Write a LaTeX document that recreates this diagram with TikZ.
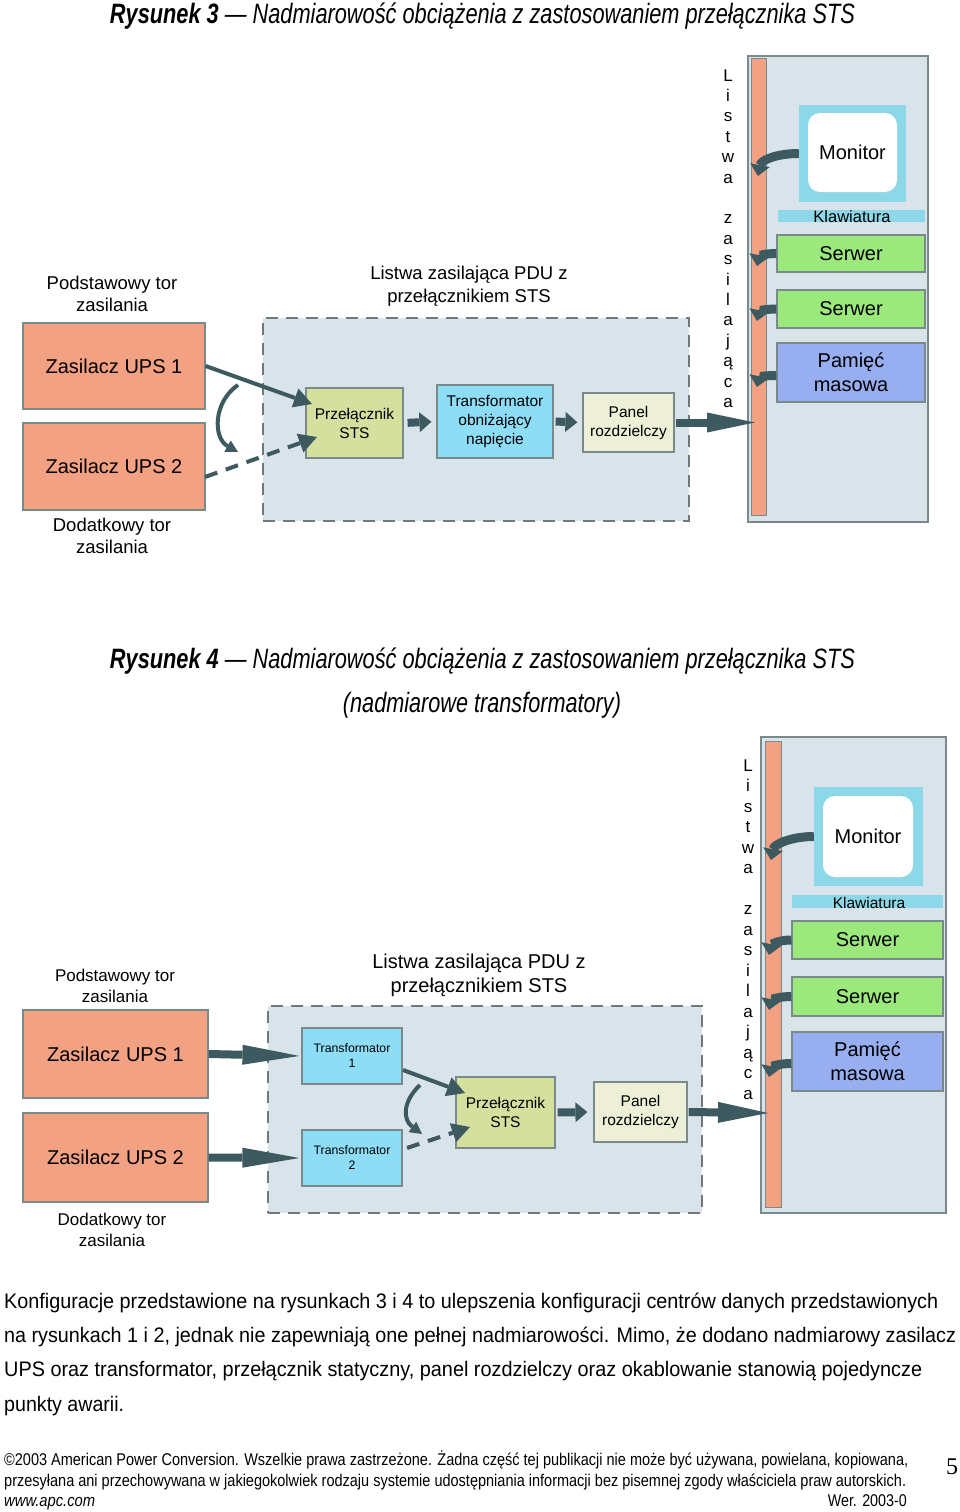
\documentclass[tikz,border=0pt]{standalone}
\usepackage{fontspec}
\usepackage{graphicx}
\setmainfont{Liberation Sans}
\newfontfamily\narrowfont[FakeStretch=0.82]{Liberation Sans}
\newfontfamily\serifnum{Liberation Serif}
\usetikzlibrary{arrows.meta}
\definecolor{salmon}{HTML}{F3A183}
\definecolor{contf}{HTML}{D9E4EA}
\definecolor{bord}{HTML}{7A8A8A}
\definecolor{dashc}{HTML}{707878}
\definecolor{arr}{HTML}{3D5A60}
\definecolor{stsf}{HTML}{D5E09F}
\definecolor{trf}{HTML}{8EDDF7}
\definecolor{panf}{HTML}{EDF0D6}
\definecolor{cyanf}{HTML}{8DD8E8}
\definecolor{srvf}{HTML}{9BE97C}
\definecolor{pamf}{HTML}{97AEF0}
\newcommand\fs[2]{\fontsize{#1}{#2}\selectfont}
\begin{document}
\begin{tikzpicture}[x=1pt,y=-1pt,
  sz/.style 2 args={minimum width=#1, minimum height=#2},
  box/.style={draw=bord, line width=1.2pt, inner sep=0pt, align=center},
  ups/.style={box, fill=salmon, font=\fs{20}{24}},
  cont/.style={draw=dashc, line width=1.5pt, dash pattern=on 12pt off 8pt, fill=contf, inner sep=0pt},
  rackbox/.style={draw=bord, line width=1.2pt, fill=contf, inner sep=0pt},
  stripbox/.style={draw=bord, line width=1pt, fill=salmon, inner sep=0pt},
  smallbox/.style={box, font=\fs{15.5}{19}},
  devbox/.style={box, font=\fs{20}{24}},
  lbl/.style={align=center, inner sep=0pt},
  blk/.style={draw=arr, line width=8pt, -{Triangle[width=20pt,length=12pt,line width=0pt]}},
  thinar/.style={draw=arr, line width=4pt, -{Triangle[width=20pt,length=18pt,line width=0pt]}},
  curvar/.style={draw=arr, line width=4pt, -{Triangle[width=13pt,length=12pt,line width=0pt]}},
  dasharr/.style={thinar, dash pattern=on 13pt off 9pt},
  fat/.style={draw=arr, line width=9pt, -{Triangle[width=20pt,length=11pt,line width=0pt]}},
]
\useasboundingbox (0,0) rectangle (960,1512);
\fill[white] (0,0) rectangle (960,1512);

% ================= Rysunek 3 =================
\node[anchor=base, inner sep=0pt] (title3) at (482.5,24) {\resizebox{745pt}{\height}{\narrowfont\itshape\fs{28}{32}\textbf{Rysunek 3} — Nadmiarowość obciążenia z zastosowaniem przełącznika STS}};

\node[lbl, font=\fs{18.5}{22}] (lblP3) at (112,294) {Podstawowy tor\\zasilania};
\node[ups, sz={182pt}{86pt}] (ups1a) at (114,366) {Zasilacz UPS 1};
\node[ups, sz={182pt}{87pt}] (ups2a) at (114,466.5) {Zasilacz UPS 2};
\node[lbl, font=\fs{18.5}{22}] (lblD3) at (112,536) {Dodatkowy tor\\zasilania};

\node[cont, sz={426pt}{203pt}] (cont3) at (476,419.5) {};
\node[lbl, font=\fs{18.5}{23}] (lblL3) at (469,286.5) {Listwa zasilająca PDU z\\przełącznikiem STS};
\node[smallbox, fill=stsf, sz={97pt}{70pt}] (sts3) at (354.5,423) {Przełącznik\\STS};
\node[smallbox, fill=trf, sz={116pt}{73pt}] (trafo3) at (495,421.5) {Transformator\\obniżający\\napięcie};
\node[smallbox, fill=panf, sz={91pt}{59pt}] (panel3) at (628.5,422.5) {Panel\\rozdzielczy};

\node[rackbox, sz={180pt}{466pt}] (rack3) at (838,289) {};
\node[stripbox, sz={15pt}{456pt}] (strip3) at (758.5,287) {};
\node[fill=cyanf, inner sep=0pt, sz={107pt}{97pt}] (mono3) at (852.5,153.5) {};
\node[fill=white, rounded corners=12pt, inner sep=0pt, sz={89pt}{79pt}, font=\fs{20}{24}] (scr3) at (852.5,152.5) {Monitor};
\node[fill=cyanf, inner sep=0pt, sz={147pt}{12pt}] (kbd3) at (851.5,216) {};
\node[lbl, font=\fs{16.5}{18}] (kbdt3) at (852,217) {Klawiatura};
\node[devbox, fill=srvf, sz={148pt}{37pt}] (srv3a) at (851,253.5) {Serwer};
\node[devbox, fill=srvf, sz={148pt}{38pt}] (srv3b) at (851,309) {Serwer};
\node[devbox, fill=pamf, sz={148pt}{59pt}] (pam3) at (851,372.5) {Pamięć\\masowa};
\node[lbl, font=\fs{17}{20.4}] (vt3) at (728,238.5) {L\\i\\s\\t\\w\\a\\[20.4pt]z\\a\\s\\i\\l\\a\\j\\ą\\c\\a};

\coordinate (in3a) at (312,404);
\coordinate (in3b) at (317,437);
\coordinate (o3b) at (205,477);
\coordinate (ca3s) at (238,385);
\coordinate (ca3e) at (238,452);
\coordinate (pin3) at (755,422.5);
\coordinate (tm3) at (758,176);
\coordinate (ts3a) at (757,266);
\coordinate (ts3b) at (757,321);
\coordinate (tp3) at (757,387);

\draw[thinar] (ups1a.east) -- (in3a);
\draw[dasharr] (o3b) -- (in3b);
\draw[curvar] (ca3s) .. controls (213,402) and (213,438) .. (ca3e);
\draw[blk, shorten <=4pt, shorten >=5pt] (sts3.east) -- (trafo3.west);
\draw[blk, shorten <=2pt, shorten >=5pt] (trafo3.east) -- (panel3.west);
\draw[blk, -{Triangle[width=20pt,length=48pt,line width=0pt]}, shorten <=1pt] (panel3.east) -- (pin3);
\draw[fat] (mono3.west) .. controls +(-22,0) and +(3,-16) .. (tm3);
\draw[fat] (srv3a.west) .. controls +(-12,0) and +(2,-10) .. (ts3a);
\draw[fat] (srv3b.west) .. controls +(-12,0) and +(2,-10) .. (ts3b);
\draw[fat] ([yshift=-3pt]pam3.west) .. controls +(-12,0) and +(2,-10) .. (tp3);

% ================= Rysunek 4 =================
\node[anchor=base, inner sep=0pt] (title4) at (482.5,668) {\resizebox{745pt}{\height}{\narrowfont\itshape\fs{28}{32}\textbf{Rysunek 4} — Nadmiarowość obciążenia z zastosowaniem przełącznika STS}};
\node[anchor=base, inner sep=0pt] (title4b) at (482,712) {\resizebox{278pt}{\height}{\narrowfont\itshape\fs{28}{32}(nadmiarowe transformatory)}};

\node[lbl, font=\fs{17}{21}] (lblP4) at (115,985.5) {Podstawowy tor\\zasilania};
\node[ups, sz={185pt}{88pt}] (ups1b) at (115.5,1054) {Zasilacz UPS 1};
\node[ups, sz={185pt}{89pt}] (ups2b) at (115.5,1157.5) {Zasilacz UPS 2};
\node[lbl, font=\fs{17}{21}] (lblD4) at (112,1230) {Dodatkowy tor\\zasilania};

\node[cont, sz={434pt}{207pt}] (cont4) at (485,1109.5) {};
\node[lbl, font=\fs{20}{24}] (lblL4) at (479,975) {Listwa zasilająca PDU z\\przełącznikiem STS};
\node[box, fill=trf, sz={100pt}{56pt}, font=\fs{12.3}{15}] (t1) at (352,1056) {Transformator\\1};
\node[box, fill=trf, sz={100pt}{56pt}, font=\fs{12.3}{15}] (t2) at (352,1158) {Transformator\\2};
\node[smallbox, fill=stsf, sz={99pt}{71pt}] (sts4) at (505.5,1112.5) {Przełącznik\\STS};
\node[smallbox, fill=panf, sz={93pt}{60pt}] (panel4) at (640.5,1112) {Panel\\rozdzielczy};

\node[rackbox, sz={185pt}{476pt}] (rack4) at (853.5,975) {};
\node[stripbox, sz={16pt}{466pt}] (strip4) at (773,974) {};
\node[fill=cyanf, inner sep=0pt, sz={109pt}{99pt}] (mono4) at (868.5,836.5) {};
\node[fill=white, rounded corners=12pt, inner sep=0pt, sz={90pt}{81pt}, font=\fs{20}{24}] (scr4) at (868,836.5) {Monitor};
\node[fill=cyanf, inner sep=0pt, sz={151pt}{13pt}] (kbd4) at (867.5,901.5) {};
\node[lbl, font=\fs{15.5}{18}] (kbdt4) at (869,902.5) {Klawiatura};
\node[devbox, fill=srvf, sz={151pt}{38pt}] (srv4a) at (867.5,940) {Serwer};
\node[devbox, fill=srvf, sz={151pt}{39pt}] (srv4b) at (867.5,996.5) {Serwer};
\node[devbox, fill=pamf, sz={151pt}{59pt}] (pam4) at (867.5,1061.5) {Pamięć\\masowa};
\node[lbl, font=\fs{17}{20.5}] (vt4) at (748,929.5) {L\\i\\s\\t\\w\\a\\[20.5pt]z\\a\\s\\i\\l\\a\\j\\ą\\c\\a};

\coordinate (o4a) at (403,1070);
\coordinate (in4a) at (465,1093);
\coordinate (o4b) at (407,1148);
\coordinate (in4b) at (470,1127);
\coordinate (ca4s) at (420,1085);
\coordinate (ca4e) at (422,1134);
\coordinate (pin4) at (768,1113);
\coordinate (tm4) at (771,860);
\coordinate (ts4a) at (769,955);
\coordinate (ts4b) at (769,1010);
\coordinate (tp4) at (769,1077);

\draw[blk, -{Triangle[width=20pt,length=57pt,line width=0pt]}, shorten >=2pt] (ups1b.east) -- (t1.west);
\draw[blk, -{Triangle[width=20pt,length=57pt,line width=0pt]}, shorten >=2pt] (ups2b.east) -- (t2.west);
\draw[thinar] (o4a) -- (in4a);
\draw[dasharr] (o4b) -- (in4b);
\draw[curvar] (ca4s) .. controls (402,1102) and (403,1120) .. (ca4e);
\draw[blk, shorten <=2pt, shorten >=6pt] (sts4.east) -- (panel4.west);
\draw[blk, -{Triangle[width=21pt,length=50pt,line width=0pt]}, shorten <=1pt] (panel4.east) -- (pin4);
\draw[fat] (mono4.west) .. controls +(-22,0) and +(3,-16) .. (tm4);
\draw[fat] (srv4a.west) .. controls +(-14,0) and +(2,-10) .. (ts4a);
\draw[fat] (srv4b.west) .. controls +(-14,0) and +(2,-10) .. (ts4b);
\draw[fat] ([yshift=-2pt]pam4.west) .. controls +(-14,0) and +(2,-10) .. (tp4);

% ================= text =================
\node[anchor=base west, inner sep=0pt] (p1) at (4,1308) {\resizebox{934pt}{\height}{\narrowfont\fs{21}{25}Konfiguracje przedstawione na rysunkach 3 i 4 to ulepszenia konfiguracji centrów danych przedstawionych}};
\node[anchor=base west, inner sep=0pt] (p2) at (4,1342) {\resizebox{952pt}{\height}{\narrowfont\fs{21}{25}na rysunkach 1 i 2, jednak nie zapewniają one pełnej nadmiarowości. Mimo, że dodano nadmiarowy zasilacz}};
\node[anchor=base west, inner sep=0pt] (p3) at (4,1376) {\resizebox{918pt}{\height}{\narrowfont\fs{21}{25}UPS oraz transformator, przełącznik statyczny, panel rozdzielczy oraz okablowanie stanowią pojedyncze}};
\node[anchor=base west, inner sep=0pt] (p4) at (4,1411) {\resizebox{120pt}{\height}{\narrowfont\fs{21}{25}punkty awarii.}};

\node[anchor=base west, inner sep=0pt] (f1) at (4,1465) {\resizebox{904pt}{\height}{\narrowfont\fs{17}{20}©2003 American Power Conversion. Wszelkie prawa zastrzeżone. Żadna część tej publikacji nie może być używana, powielana, kopiowana,}};
\node[anchor=base west, inner sep=0pt] (f2) at (4,1486) {\resizebox{902pt}{\height}{\narrowfont\fs{17}{20}przesyłana ani przechowywana w jakiegokolwiek rodzaju systemie udostępniania informacji bez pisemnej zgody właściciela praw autorskich.}};
\node[anchor=base west, inner sep=0pt] (f3) at (4,1506) {\resizebox{91pt}{\height}{\narrowfont\itshape\fs{17}{20}www.apc.com}};
\node[anchor=base east, inner sep=0pt] (f4) at (907,1506) {\resizebox{79pt}{\height}{\narrowfont\fs{17}{20}Wer. 2003-0}};
\node[anchor=base, inner sep=0pt] (pg) at (952,1474) {\serifnum\fs{24}{26}5};
\end{tikzpicture}
\end{document}
